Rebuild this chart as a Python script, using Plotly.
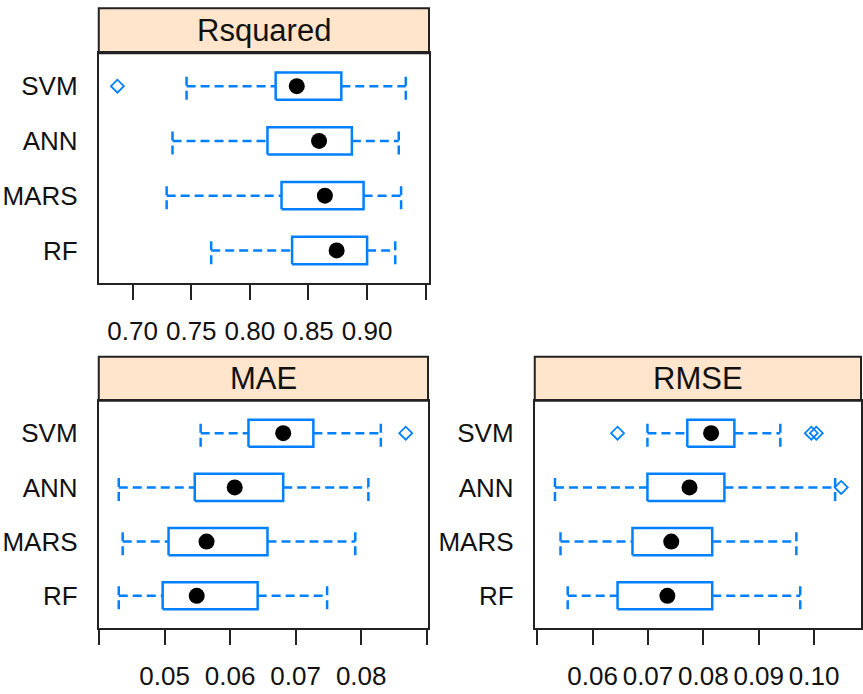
import plotly.graph_objects as go

# ---------------- data ----------------
categories = ["SVM", "ANN", "MARS", "RF"]          # top to bottom
cat_pos = [4, 3, 2, 1]

rsq_low = [0.746, 0.734, 0.729, 0.767]
rsq_q1 = [0.822, 0.815, 0.827, 0.836]
rsq_med = [0.840, 0.859, 0.864, 0.874]
rsq_q3 = [0.878, 0.887, 0.897, 0.900]
rsq_high = [0.933, 0.927, 0.929, 0.924]
rsq_out = [[0.687], [], [], []]

mae_low = [0.0555, 0.0430, 0.0436, 0.0430]
mae_q1 = [0.0628, 0.0546, 0.0506, 0.0497]
mae_med = [0.0681, 0.0607, 0.0564, 0.0549]
mae_q3 = [0.0727, 0.0681, 0.0657, 0.0642]
mae_high = [0.0830, 0.0811, 0.0791, 0.0748]
mae_out = [[0.0868], [], [], []]

rmse_low = [0.0699, 0.0532, 0.0542, 0.0555]
rmse_q1 = [0.0771, 0.0699, 0.0672, 0.0645]
rmse_med = [0.0814, 0.0775, 0.0742, 0.0735]
rmse_q3 = [0.0856, 0.0838, 0.0816, 0.0816]
rmse_high = [0.0939, 0.1038, 0.0968, 0.0975]
rmse_out = [[0.0645, 0.0995, 0.1004], [0.1049], [], []]

panel_titles = ["Rsquared", "MAE", "RMSE"]
rsq_ticks = [0.70, 0.75, 0.80, 0.85, 0.90, 0.95]
rsq_ticktext = ["0.70", "0.75", "0.80", "0.85", "0.90", ""]
mae_ticks = [0.04, 0.05, 0.06, 0.07, 0.08, 0.09]
mae_ticktext = ["", "0.05", "0.06", "0.07", "0.08", ""]
rmse_ticks = [0.05, 0.06, 0.07, 0.08, 0.09, 0.10]
rmse_ticktext = ["", "0.06", "0.07", "0.08", "0.09", "0.10"]

# ---------------- style ----------------
W, H = 863, 694
BLUE = "#0080ff"
HALF = 0.25
FONT = "Liberation Sans, Arial, sans-serif"
DASH = "9px,5px"


def px_x(a, b):
    return [a / W, b / W]


def px_y(top, bottom):
    return [(H - bottom) / H, (H - top) / H]


panels = [
    dict(low=rsq_low, q1=rsq_q1, med=rsq_med, q3=rsq_q3, high=rsq_high, out=rsq_out,
         ticks=rsq_ticks, ticktext=rsq_ticktext, rng=[0.6711, 0.9528],
         xd=px_x(99, 430), yd=px_y(53.3, 283.3), strip_top=8.3),
    dict(low=mae_low, q1=mae_q1, med=mae_med, q3=mae_q3, high=mae_high, out=mae_out,
         ticks=mae_ticks, ticktext=mae_ticktext, rng=[0.03995, 0.0902],
         xd=px_x(99, 429), yd=px_y(400.7, 628.3), strip_top=356.7),
    dict(low=rmse_low, q1=rmse_q1, med=rmse_med, q3=rmse_q3, high=rmse_high, out=rmse_out,
         ticks=rmse_ticks, ticktext=rmse_ticktext, rng=[0.04955, 0.10847],
         xd=px_x(536, 863), yd=px_y(400.7, 628.3), strip_top=356.7),
]

fig = go.Figure()
shapes = []
annotations = []

for i, p in enumerate(panels):
    xa = "x" if i == 0 else f"x{i+1}"
    ya = "y" if i == 0 else f"y{i+1}"
    bx, by, wx, wy, cx, cy, ox, oy = [], [], [], [], [], [], [], []
    for j, yc in enumerate(cat_pos):
        lo, a, m, b, hi = p["low"][j], p["q1"][j], p["med"][j], p["q3"][j], p["high"][j]
        bx += [a, b, b, a, a, None]
        by += [yc - HALF, yc - HALF, yc + HALF, yc + HALF, yc - HALF, None]
        wx += [lo, a, None, b, hi, None]
        wy += [yc, yc, None, yc, yc, None]
        cx += [lo, lo, None, hi, hi, None]
        cy += [yc - HALF, yc + HALF, None, yc - HALF, yc + HALF, None]
        for v in p["out"][j]:
            ox.append(v)
            oy.append(yc)
    fig.add_trace(go.Scatter(x=wx, y=wy, mode="lines", xaxis=xa, yaxis=ya,
                             line=dict(color=BLUE, width=2.5, dash=DASH),
                             hoverinfo="skip", showlegend=False))
    fig.add_trace(go.Scatter(x=cx, y=cy, mode="lines", xaxis=xa, yaxis=ya,
                             line=dict(color=BLUE, width=2.5, dash=DASH),
                             hoverinfo="skip", showlegend=False))
    fig.add_trace(go.Scatter(x=bx, y=by, mode="lines", xaxis=xa, yaxis=ya,
                             line=dict(color=BLUE, width=2.5),
                             hoverinfo="skip", showlegend=False))
    fig.add_trace(go.Scatter(x=p["med"], y=cat_pos, mode="markers", xaxis=xa, yaxis=ya,
                             marker=dict(color="black", size=16, symbol="circle"),
                             showlegend=False))
    fig.add_trace(go.Scatter(x=ox, y=oy, mode="markers", xaxis=xa, yaxis=ya,
                             marker=dict(color=BLUE, size=10, symbol="diamond-open",
                                         line=dict(width=1.8, color=BLUE)),
                             showlegend=False))

    axx = dict(domain=p["xd"], range=p["rng"], tickvals=p["ticks"], ticktext=p["ticktext"],
               ticks="outside", ticklen=15, tickwidth=2, tickcolor="#222",
               showline=True, linecolor="#222", linewidth=2, mirror=True,
               showgrid=False, zeroline=False, anchor=ya,
               tickfont=dict(family=FONT, size=26, color="#111"),
               ticklabelstandoff=8)
    axy = dict(domain=p["yd"], range=[0.4, 4.6], tickvals=cat_pos, ticktext=categories,
               ticks="", showline=True, linecolor="#222", linewidth=2, mirror=True,
               showgrid=False, zeroline=False, anchor=xa,
               tickfont=dict(family=FONT, size=26, color="#111"),
               ticklabelstandoff=14)
    fig.layout[("xaxis" if i == 0 else f"xaxis{i+1}")] = axx
    fig.layout[("yaxis" if i == 0 else f"yaxis{i+1}")] = axy

    y_top = (H - p["strip_top"]) / H
    y_bot = p["yd"][1]
    shapes.append(dict(type="rect", xref="paper", yref="paper",
                       x0=p["xd"][0], x1=p["xd"][1], y0=y_bot, y1=y_top,
                       fillcolor="#ffe5cc", line=dict(color="#222", width=2), layer="below"))
    annotations.append(dict(xref="paper", yref="paper",
                            x=(p["xd"][0] + p["xd"][1]) / 2, y=(y_bot + y_top) / 2,
                            text=panel_titles[i], showarrow=False,
                            xanchor="center", yanchor="middle",
                            font=dict(family=FONT, size=31, color="#111")))

fig.update_layout(width=W, height=H, margin=dict(l=0, r=0, t=0, b=0),
                  plot_bgcolor="white", paper_bgcolor="white",
                  shapes=shapes, annotations=annotations, showlegend=False)

fig.write_html("out.html")
